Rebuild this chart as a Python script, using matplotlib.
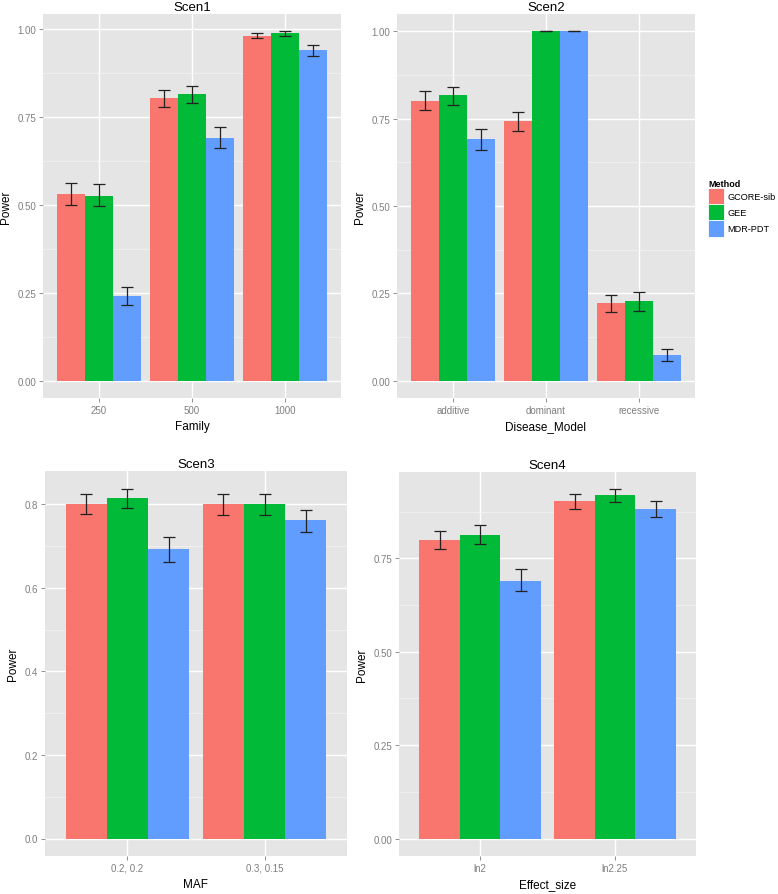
import numpy as np
import matplotlib.pyplot as plt
from matplotlib.patches import Patch

plt.rcParams['font.family'] = ['Liberation Sans', 'DejaVu Sans']

# ____________________________________________________________________
# Data

methods = ["GCORE-sib", "GEE", "MDR-PDT"]
colors = ["#F8766D", "#00BA38", "#619CFF"]

# Scen1 : Family
scen1_cats = ["250", "500", "1000"]
scen1_power = [[0.530, 0.802, 0.979], [0.525, 0.813, 0.987], [0.241, 0.690, 0.938]]
scen1_lower = [[0.500, 0.776, 0.972], [0.495, 0.790, 0.980], [0.214, 0.662, 0.923]]
scen1_upper = [[0.562, 0.827, 0.989], [0.558, 0.837, 0.992], [0.267, 0.720, 0.953]]

# Scen2 : Disease_Model
scen2_cats = ["additive", "dominant", "recessive"]
scen2_power = [[0.801, 0.743, 0.221], [0.817, 1.000, 0.229], [0.691, 1.000, 0.072]]
scen2_lower = [[0.775, 0.715, 0.195], [0.790, 1.000, 0.200], [0.661, 1.000, 0.056]]
scen2_upper = [[0.828, 0.770, 0.246], [0.840, 1.000, 0.255], [0.721, 1.000, 0.089]]

# Scen3 : MAF
scen3_cats = ["0.2, 0.2", "0.3, 0.15"]
scen3_power = [[0.802, 0.800], [0.815, 0.800], [0.693, 0.762]]
scen3_lower = [[0.777, 0.775], [0.791, 0.775], [0.663, 0.734]]
scen3_upper = [[0.826, 0.825], [0.838, 0.825], [0.721, 0.787]]

# Scen4 : Effect_size
scen4_cats = ["ln2", "ln2.25"]
scen4_power = [[0.800, 0.903], [0.813, 0.918], [0.690, 0.882]]
scen4_lower = [[0.776, 0.883], [0.788, 0.900], [0.661, 0.861]]
scen4_upper = [[0.824, 0.921], [0.838, 0.934], [0.720, 0.902]]

# ____________________________________________________________________
# ggplot-like panel

W, H = 778, 895

def panel(fig, box, title, xlabel, cats, power, lower, upper, yticks, fmt):
    x0, y0, x1, y1 = box
    ax = fig.add_axes([x0 / W, 1 - y1 / H, (x1 - x0) / W, (y1 - y0) / H])
    ax.set_facecolor("#E5E5E5")
    for s in ax.spines.values():
        s.set_visible(False)

    n = len(cats)
    pos = np.arange(1, n + 1)
    bw = 0.3
    for k in range(len(methods)):
        xs = pos + (k - 1) * bw
        p = np.array(power[k])
        lo = np.array(lower[k])
        hi = np.array(upper[k])
        ax.bar(xs, p, width=bw, color=colors[k], zorder=3, linewidth=0)
        ax.errorbar(xs, p, yerr=[p - lo, hi - p], fmt="none", ecolor="#222222",
                    elinewidth=0.9, capsize=4.5, capthick=0.9, zorder=4)

    top = max(max(u) for u in upper)
    ax.set_ylim(-0.05 * top, top * 1.05)
    ax.set_xlim(0.4, n + 0.6)

    ax.set_yticks(yticks)
    ax.set_yticklabels([fmt.format(t) for t in yticks])
    minor = [(a + b) / 2 for a, b in zip(yticks[:-1], yticks[1:])]
    step = yticks[1] - yticks[0]
    if yticks[-1] + step / 2 < top * 1.05:
        minor.append(yticks[-1] + step / 2)
    ax.set_yticks(minor, minor=True)
    ax.set_xticks(pos)
    ax.set_xticklabels(cats)

    ax.grid(which="major", color="white", linewidth=1.0, zorder=1)
    ax.grid(which="minor", axis="y", color="#F2F2F2", linewidth=0.6, zorder=1)
    ax.set_axisbelow(True)
    ax.tick_params(which="major", length=3, width=0.6, color="#7F7F7F",
                   labelcolor="#7F7F7F", labelsize=7, pad=2)
    ax.tick_params(which="minor", length=0)

    ax.set_title(title, fontsize=9.5, pad=3)
    ax.set_xlabel(xlabel, fontsize=8.5, labelpad=4)
    ax.set_ylabel("Power", fontsize=8.5, labelpad=4)
    return ax


fig = plt.figure(figsize=(W / 100, H / 100), dpi=100)

t4 = [0.0, 0.25, 0.5, 0.75, 1.0]
panel(fig, (43, 15, 341, 399), "Scen1", "Family",
      scen1_cats, scen1_power, scen1_lower, scen1_upper, t4, "{:.2f}")
panel(fig, (397, 15, 695, 399), "Scen2", "Disease_Model",
      scen2_cats, scen2_power, scen2_lower, scen2_upper, t4, "{:.2f}")
panel(fig, (45, 472, 347, 857), "Scen3", "MAF",
      scen3_cats, scen3_power, scen3_lower, scen3_upper,
      [0.0, 0.2, 0.4, 0.6, 0.8], "{:.1f}")
panel(fig, (399, 473, 696, 857), "Scen4", "Effect_size",
      scen4_cats, scen4_power, scen4_lower, scen4_upper,
      [0.0, 0.25, 0.5, 0.75], "{:.2f}")

# Legend
handles = [Patch(facecolor=c, edgecolor="white", linewidth=0.6) for c in colors]
leg = fig.legend(handles, methods, title="Method", loc="upper left",
                 bbox_to_anchor=(708 / W, 1 - 180 / H), frameon=False,
                 fontsize=6.6, title_fontsize=6.5, handlelength=1.75,
                 handleheight=2.35, handletextpad=0.35, labelspacing=0.0,
                 borderpad=0.0, borderaxespad=0.0)
leg.get_title().set_fontweight("bold")
leg._legend_box.align = "left"

fig.savefig("out.png", dpi=100)
